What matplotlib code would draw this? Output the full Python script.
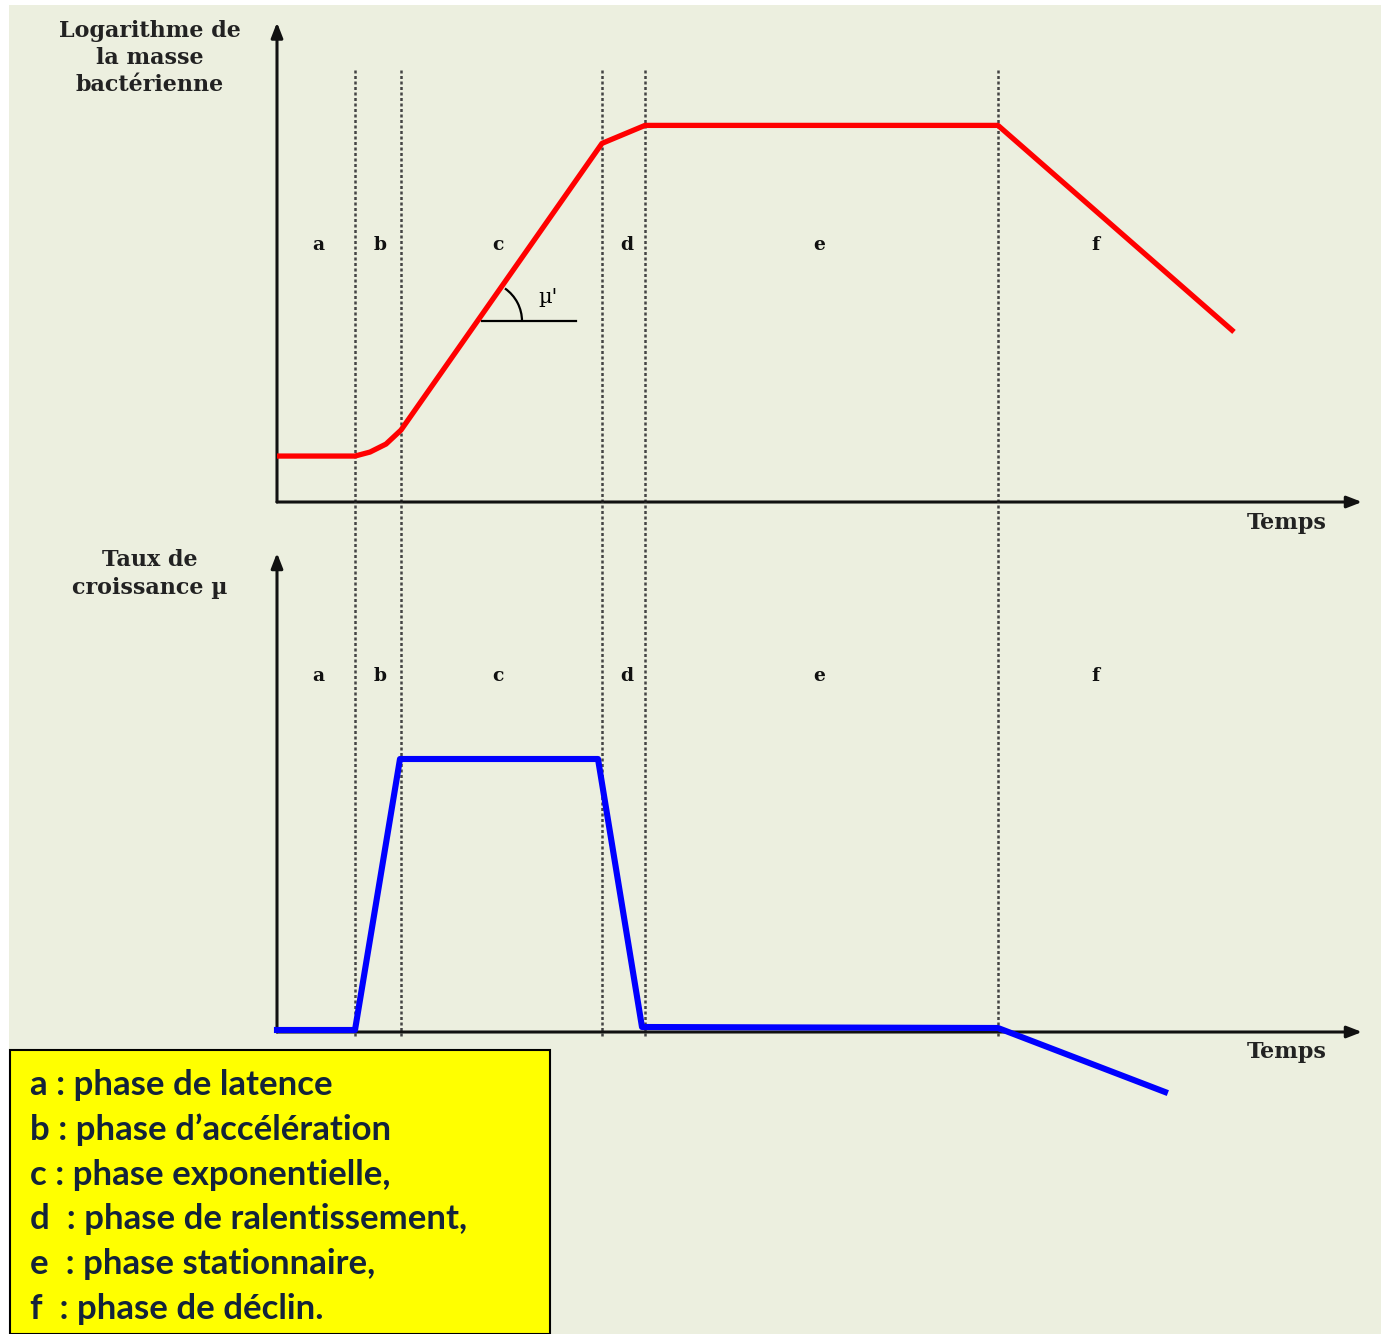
import matplotlib
matplotlib.use("Agg")
import matplotlib.pyplot as plt
from matplotlib.patches import Rectangle, Arc
import numpy as np

# time axis (arbitrary units), phase boundaries
phase_bounds = [7.8, 12.4, 32.5, 36.8, 72.1]
phase_names = ["a", "b", "c", "d", "e", "f"]
phase_label_t = [4.1, 10.3, 22.1, 35.0, 54.2, 81.8]

# log of bacterial mass
mass_t = [0.0, 7.8, 9.3, 10.9, 12.4, 32.5, 36.8, 72.1, 95.5]
mass_v = [4.6, 4.6, 5.0, 5.8, 7.2, 35.9, 37.7, 37.7, 17.2]

# growth rate mu
rate_t = [0.0, 7.8, 12.3, 32.1, 36.5, 72.1, 88.8]
rate_v = [0.2, 0.2, 27.3, 27.3, 0.5, 0.4, -6.0]

legend_lines = [
    "a : phase de latence",
    "b : phase d\u2019accélération",
    "c : phase exponentielle,",
    "d  : phase de ralentissement,",
    "e  : phase stationnaire,",
    "f  : phase de déclin.",
]

W, H = 1381, 1334
BG = "#ECEFDF"
serif = ["DejaVu Serif"]

fig = plt.figure(figsize=(W / 100, H / 100), dpi=100, facecolor="white")
fig.patches.append(Rectangle((9 / W, 0), 1, 1 - 5 / H, transform=fig.transFigure,
                             facecolor=BG, edgecolor="none", zorder=-5))


def px_axes(x0, ytop, ybot, xlim, ylim):
    ax = fig.add_axes([x0 / W, 1 - ybot / H, (xlim[1] - xlim[0]) * 10 / W, (ybot - ytop) / H])
    ax.set_xlim(*xlim)
    ax.set_ylim(*ylim)
    ax.axis("off")
    ax.patch.set_alpha(0)
    return ax


def draw_axes_arrows(ax, xmax, ymax):
    kw = dict(arrowstyle="-|>,head_length=0.9,head_width=0.35", lw=2.2, color="#111111",
              mutation_scale=10, shrinkA=0, shrinkB=0)
    ax.annotate("", xy=(xmax, 0), xytext=(0, 0), arrowprops=kw, annotation_clip=False)
    ax.annotate("", xy=(0, ymax), xytext=(0, 0), arrowprops=kw, annotation_clip=False)


vl = dict(colors="#444444", linestyles=(0, (1.2, 1.0)), linewidth=1.8)

# ---- top panel
ax1 = px_axes(277, 17.5, 512, (0, 108.5), (-1, 48.5))
ax1.vlines(phase_bounds, 0, 43.4, **vl, zorder=1)
draw_axes_arrows(ax1, 108.5, 48.0)
ax1.plot(mass_t, mass_v, color="#FF0000", lw=3.8, solid_joinstyle="round", zorder=3)
for t, n in zip(phase_label_t, phase_names):
    ax1.text(t, 25.7, n, ha="center", va="center", fontsize=13.5, fontweight="bold",
             family=serif, color="#111111")
# mu' angle
ax1.plot([20.5, 29.9], [18.1, 18.1], color="black", lw=1.6)
slope = np.degrees(np.arctan2(mass_v[5] - mass_v[4], mass_t[5] - mass_t[4]))
ax1.add_patch(Arc((20.5, 18.1), 8.0, 8.0, theta1=0, theta2=slope, color="black", lw=1.6))
ax1.text(27.1, 20.5, "\u00b5'", ha="center", va="center", fontsize=15, family=serif)

# ---- bottom panel
ax2 = px_axes(277, 547, 1132, (0, 108.5), (-10, 48.5))
ax2.vlines(phase_bounds, -0.4, 53.0, **vl, zorder=1, clip_on=False)
draw_axes_arrows(ax2, 108.5, 47.9)
ax2.plot(rate_t, rate_v, color="#0000FF", lw=4.4, solid_joinstyle="round", zorder=3,
         clip_on=False)
for t, n in zip(phase_label_t, phase_names):
    ax2.text(t, 35.6, n, ha="center", va="center", fontsize=13.5, fontweight="bold",
             family=serif, color="#111111")

# axis titles
ttl = dict(ha="center", va="center", fontsize=16, fontweight="bold", family=serif,
           color="#222222", linespacing=1.3)
fig.text(150 / W, 1 - 58 / H, "Logarithme de\nla masse\nbactérienne", **ttl)
fig.text(150 / W, 1 - 574 / H, "Taux de\ncroissance \u00b5", **ttl)
fig.text(1287 / W, 1 - 523 / H, "Temps", **ttl)
fig.text(1287 / W, 1 - 1052 / H, "Temps", **ttl)

# legend box
fig.patches.append(Rectangle((10 / W, 0), 540 / W, (H - 1050) / H, transform=fig.transFigure,
                             facecolor="#FFFF00", edgecolor="black", lw=1.5, zorder=2))
for i, line in enumerate(legend_lines):
    fig.text(30 / W, 1 - (1085 + 44.8 * i) / H, line, ha="left", va="center",
             fontsize=25, fontweight="bold", family=["Lato", "DejaVu Sans"],
             color="#13233A", zorder=3)

fig.savefig("out.png", dpi=100, facecolor=fig.get_facecolor())
